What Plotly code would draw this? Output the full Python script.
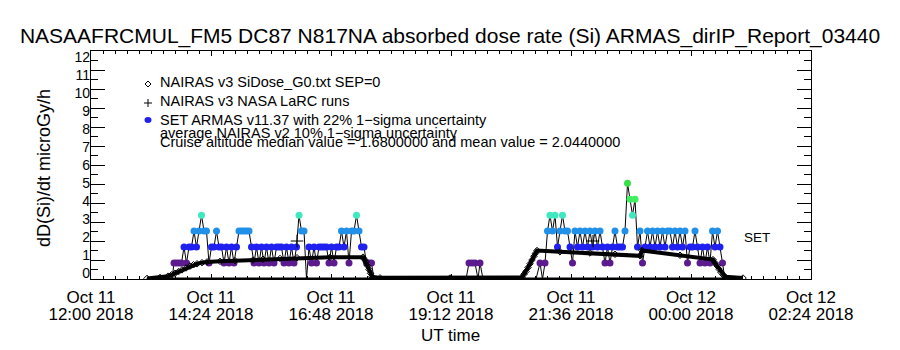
import plotly.graph_objects as go

# ---------------- data (UT hours since 2018-10-11 00:00) ----------------
x_tick_hours = [12.0, 14.4, 16.8, 19.2, 21.6, 24.0, 26.4]
x_tick_dates = ["Oct 11", "Oct 11", "Oct 11", "Oct 11", "Oct 11", "Oct 12", "Oct 12"]
x_tick_times = ["12:00 2018", "14:24 2018", "16:48 2018", "19:12 2018", "21:36 2018",
                "00:00 2018", "02:24 2018"]
y_tick_values = list(range(0, 13))

# NAIRAS v3 SiDose_G0 model (diamonds)
model_hours = [13.12, 13.38, 13.54, 13.61, 13.68, 13.75, 13.82, 13.90, 13.98, 14.05, 14.12, 14.22,
               14.32, 14.58, 14.88, 15.24, 15.44, 15.78, 16.12, 16.78, 17.44, 17.47, 17.50, 17.53,
               17.56, 17.59, 17.62, 17.78, 19.18, 20.62, 20.66, 20.70, 20.74, 20.78, 20.82, 20.86,
               20.89, 20.92, 21.38, 21.98, 22.48, 22.98, 23.02, 23.78, 24.44, 24.48, 24.52, 24.56,
               24.60, 24.64, 24.68, 25.04]
model_dose = [0.03, 0.08, 0.15, 0.22, 0.30, 0.39, 0.48, 0.58, 0.68, 0.75, 0.80, 0.86,
              0.90, 0.93, 0.96, 1.00, 1.04, 1.08, 1.12, 1.14, 1.15, 1.03, 0.90, 0.70,
              0.50, 0.30, 0.12, 0.06, 0.05, 0.08, 0.25, 0.40, 0.60, 0.80, 1.00, 1.20,
              1.35, 1.50, 1.43, 1.37, 1.30, 1.22, 1.50, 1.25, 1.02, 0.85, 0.70, 0.52,
              0.35, 0.22, 0.12, 0.05]

# SEP contribution (SEP=0) over the model period
sep_hours = [13.12, 25.04]
sep_dose = [0.0, 0.0]

# NAIRAS v3 NASA LaRC runs (+)
larc_hours = [16.12, 22.04]
larc_dose = [2.0, 2.0]

# SET ARMAS dose rate (records every 3 min, 0.84 microGy/h quantisation)
armas_hours = [13.10, 13.30, 13.50, 13.62] + \
    [13.66 + 0.05 * k for k in range(81)] + \
    [17.80, 18.40, 19.00, 19.50, 19.56, 19.62, 19.68, 19.74, 19.78, 19.84, 20.30, 20.90] + \
    [20.98 + 0.05 * k for k in range(75)] + \
    [24.80, 25.00]
armas_dose = [0, 0, 0, 0] + [
    0.84, 0.84, 0.84, 0.84, 1.68, 0.84, 1.68, 1.68, 2.52, 1.68,
    2.52, 3.36, 2.52, 2.52, 0.84, 1.68, 1.68, 2.52, 1.68, 1.68,
    0.84, 1.68, 0.84, 1.68, 0.84, 1.68, 2.52, 2.52, 2.52, 2.52,
    2.52, 1.68, 0.84, 1.68, 0.84, 1.68, 0.84, 1.68, 0.84, 1.68,
    0.84, 1.68, 1.68, 1.68, 0.84, 1.68, 0.84, 1.68, 0.84, 1.68,
    3.36, 2.52, 2.52, 0, 1.68, 0.84, 1.68, 0.84, 1.68, 1.68,
    1.68, 1.68, 0.84, 1.68, 0.84, 1.68, 1.68, 2.52, 1.68, 2.52,
    0.84, 2.52, 2.52, 3.36, 2.52, 1.68, 1.68, 0.84, 0.84, 0.84,
    0] + [0, 0, 0, 0, 0.84, 0.84, 0.84, 0, 0.84, 0, 0, 0] + [
    0.84, 0, 0.84, 2.52, 3.36, 2.52, 3.36, 1.68, 2.52, 3.36,
    2.52, 2.52, 1.68, 0.84, 2.52, 1.68, 2.52, 1.68, 2.52, 1.68,
    2.52, 1.68, 2.52, 1.68, 2.52, 1.68, 0.84, 1.68, 0.84, 1.68,
    2.52, 1.68, 1.68, 1.68, 2.52, 5.04, 4.20, 3.36, 4.20, 1.68,
    2.52, 0.84, 1.68, 2.52, 1.68, 2.52, 1.68, 2.52, 1.68, 2.52,
    1.68, 2.52, 2.52, 1.68, 2.52, 1.68, 2.52, 1.68, 2.52, 0.84,
    1.68, 1.68, 2.52, 1.68, 0.84, 1.68, 0.84, 1.68, 0.84, 2.52,
    1.68, 2.52, 1.68, 0.84, 0] + [0, 0]

level_colors = {0: "#000000", 0.84: "#5b1a8e", 1.68: "#2020f0", 2.52: "#2090e8",
                3.36: "#40e8c0", 4.2: "#40f060", 5.04: "#38e048"}

title_text = "NASAAFRCMUL_FM5 DC87 N817NA absorbed dose rate (Si) ARMAS_dirIP_Report_03440"
legend_lines = ["NAIRAS v3 SiDose_G0.txt SEP=0",
                "NAIRAS v3 NASA LaRC runs",
                "SET ARMAS v11.37 with 22% 1\u2212sigma uncertainty",
                "average NAIRAS v2 10% 1\u2212sigma uncertainty",
                "Cruise altitude median value = 1.6800000 and mean value = 2.0440000"]

FONT = "Liberation Sans"
PL, PT, PW, PH = 91, 51, 720, 228

# the original (IDL) device font sets its y labels on an 18 px pitch against the 19 px tick pitch,
# starting 5.5 px above the bottom; reproduce that placement on an overlaid label-only axis
label_pitch_ratio = 18.04 / 19.0
label_offset = 5.5 / 19.0
y_label_pos = [label_offset + v * label_pitch_ratio for v in y_tick_values]

# ---------------- figure ----------------
fig = go.Figure()

# SEP=0 component along the bottom (on the overlaid axes that carry the extra label rows)
fig.add_trace(go.Scatter(x=sep_hours, y=sep_dose, mode="lines", cliponaxis=False,
                         xaxis="x2", yaxis="y2",
                         line=dict(color="black", width=3), showlegend=False, hoverinfo="skip"))
# ARMAS connecting line
fig.add_trace(go.Scatter(x=armas_hours, y=armas_dose, mode="lines",
                         line=dict(color="black", width=1), showlegend=False, hoverinfo="skip"))
# ARMAS coloured dots (non-zero values)
nz = [i for i, v in enumerate(armas_dose) if v > 0]
fig.add_trace(go.Scatter(x=[armas_hours[i] for i in nz], y=[armas_dose[i] for i in nz],
                         mode="markers",
                         marker=dict(size=7, color=[level_colors[round(armas_dose[i], 2)] for i in nz],
                                     line=dict(width=0)),
                         showlegend=False))
# model thick line + diamonds
fig.add_trace(go.Scatter(x=model_hours, y=model_dose, mode="lines+markers",
                         line=dict(color="black", width=4),
                         marker=dict(symbol="diamond-open", size=5, color="black", line=dict(width=1)),
                         showlegend=False))
# LaRC runs
fig.add_trace(go.Scatter(x=larc_hours, y=larc_dose, mode="markers",
                         marker=dict(symbol="cross-thin-open", size=9, color="black",
                                     line=dict(width=1, color="black")),
                         showlegend=False))


def px(x):
    return (x - PL) / PW


def py(y):
    return (PT + PH - y) / PH


ann = []
leg_y = [82, 101, 120, 133, 142]
for t, yy in zip(legend_lines, leg_y):
    ann.append(dict(x=px(158), y=py(yy), xref="paper", yref="paper", text=t, showarrow=False,
                    xanchor="left", yanchor="middle", font=dict(family=FONT, size=14.5, color="black")))
ann.append(dict(x=px(742), y=py(237), xref="paper", yref="paper", text="SET", showarrow=False,
                xanchor="left", yanchor="middle", font=dict(family=FONT, size=13.5, color="black")))
ann.append(dict(x=px(44), y=py(168), xref="paper", yref="paper", text="dD(Si)/dt microGy/h",
                showarrow=False, textangle=-90, xanchor="center", yanchor="middle",
                font=dict(family=FONT, size=18, color="black")))
ann.append(dict(x=px(450), y=py(335), xref="paper", yref="paper", text="UT time",
                showarrow=False, xanchor="center", yanchor="middle",
                font=dict(family=FONT, size=17, color="black")))

shapes = [
    dict(type="path", xref="paper", yref="paper", xsizemode="pixel", ysizemode="pixel",
         xanchor=px(148), yanchor=py(84), path="M0,-3 L3,0 L0,3 L-3,0 Z",
         line=dict(color="black", width=1)),
    dict(type="path", xref="paper", yref="paper", xsizemode="pixel", ysizemode="pixel",
         xanchor=px(148), yanchor=py(103), path="M-4,0 L4,0 M0,-4 L0,4",
         line=dict(color="black", width=1)),
    dict(type="circle", xref="paper", yref="paper", xsizemode="pixel", ysizemode="pixel",
         xanchor=px(148), yanchor=py(120), x0=-3.5, x1=3.5, y0=-3, y1=3,
         fillcolor="#2020f0", line=dict(width=0)),
]

tick_font = dict(family=FONT, size=17, color="black")
fig.update_layout(
    width=900, height=350,
    margin=dict(l=PL, r=900 - PL - PW, t=PT, b=350 - PT - PH),
    paper_bgcolor="white", plot_bgcolor="white",
    title=dict(text=title_text, x=0.5, xanchor="center", y=1 - 36 / 350, yanchor="middle",
               font=dict(family=FONT, size=21, color="black")),
    annotations=ann, shapes=shapes, showlegend=False,
    xaxis=dict(range=[12, 26.4], tickmode="array", tickvals=x_tick_hours, ticktext=x_tick_dates,
               ticks="inside", ticklen=5, tickcolor="black", showline=True, linecolor="black",
               linewidth=1, mirror="ticks", showgrid=False, zeroline=False,
               tickfont=tick_font, ticklabelstandoff=3,
               minor=dict(dtick=0.24, tick0=12, ticks="inside", ticklen=3, tickcolor="black",
                          showgrid=False)),
    xaxis2=dict(range=[12, 26.4], overlaying="x", anchor="y", side="bottom",
                tickmode="array", tickvals=x_tick_hours, ticktext=x_tick_times,
                ticks="", showline=False, showgrid=False, zeroline=False,
                tickfont=tick_font, ticklabelstandoff=23),
    yaxis=dict(range=[0, 12], tickmode="linear", tick0=0, dtick=1, showticklabels=False,
               ticks="inside", ticklen=14, tickcolor="black", showline=True, linecolor="black",
               linewidth=1, mirror="ticks", showgrid=False, zeroline=False,
               minor=dict(dtick=0.5, ticks="inside", ticklen=7, tickcolor="black", showgrid=False)),
    yaxis2=dict(range=[0, 12], overlaying="y", anchor="x", side="left",
                tickmode="array", tickvals=y_label_pos, ticktext=[str(v) for v in y_tick_values],
                ticks="", showline=False, showgrid=False, zeroline=False,
                tickfont=dict(family=FONT, size=14, color="black")),
)

fig.write_html("out.html")
